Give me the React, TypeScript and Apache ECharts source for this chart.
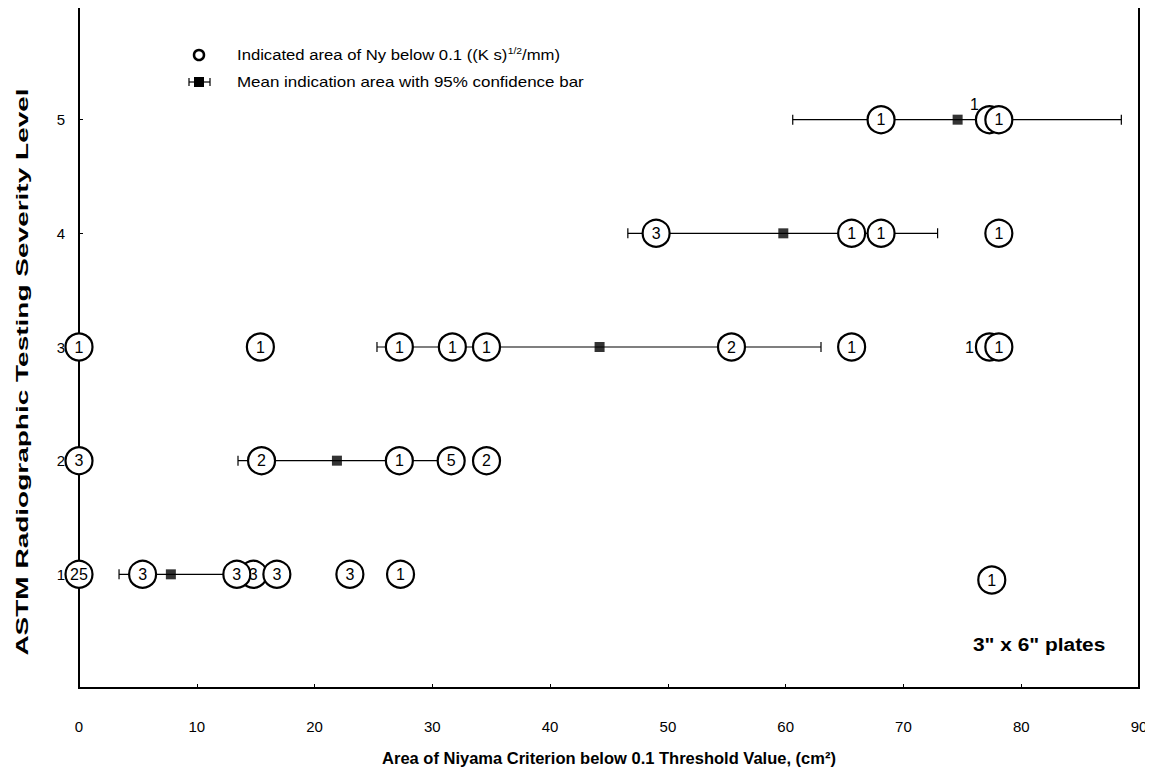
import React, { useEffect, useRef } from "react";
import * as echarts from "echarts";

// Circles: x (area), y (severity level), count shown in circle
const circleX = [0, 5.4, 14.8, 13.4, 16.8, 23.0, 27.3, 77.5,
  0, 15.5, 27.2, 31.6, 34.6,
  0, 15.4, 27.2, 31.7, 34.6, 55.4, 65.6, 77.3, 78.1,
  49.0, 65.6, 68.1, 78.1,
  68.1, 77.3, 78.1];
const circleY = [1, 1, 1, 1, 1, 1, 1, 0.95,
  2, 2, 2, 2, 2,
  3, 3, 3, 3, 3, 3, 3, 3, 3,
  4, 4, 4, 4,
  5, 5, 5];
const circleN = ["25", "3", "3", "3", "3", "3", "1", "1",
  "3", "2", "1", "5", "2",
  "1", "1", "1", "1", "1", "2", "1", "1", "1",
  "3", "1", "1", "1",
  "1", "1", "1"];
// circles partly hidden behind a neighbour (drawn first); some carry their count outside
const circleBehind = [false, false, true, false, false, false, false, false,
  false, false, false, false, false,
  false, false, false, false, false, false, false, true, false,
  false, false, false, false,
  false, true, false];
const outsideLabel = ["", "", "", "", "", "", "", "",
  "", "", "", "", "",
  "", "", "", "", "", "", "", "left", "",
  "", "", "", "",
  "", "topleft", ""];

// Means with 95% confidence bars
const meanLevel = [1, 2, 3, 4, 5];
const meanValue = [7.8, 21.9, 44.2, 59.8, 74.6];
const ciLow = [3.4, 13.5, 25.3, 46.6, 60.6];
const ciHigh = [12.7, 30.8, 63.0, 72.9, 88.5];

const xTicks = [0, 10, 20, 30, 40, 50, 60, 70, 80, 90];
const yTicks = [1, 2, 3, 4, 5];

const FONT = "Liberation Sans, Arial, sans-serif";

export default function App() {
  const ref = useRef<HTMLDivElement>(null);
  useEffect(() => {
    if (!ref.current) return;
    const chart = echarts.init(ref.current, null, { renderer: "svg" });

    const makeItem = (i: number) => {
      const item: any = { value: [circleX[i], circleY[i], circleN[i]] };
      if (outsideLabel[i] === "left") {
        item.label = { position: "left", distance: 1 };
      } else if (outsideLabel[i] === "topleft") {
        item.label = { position: "left", distance: 0, offset: [4, -15] };
      }
      return item;
    };
    const backData: any[] = [];
    const frontData: any[] = [];
    circleX.forEach((_, i) => (circleBehind[i] ? backData : frontData).push(makeItem(i)));

    const barData = meanLevel.map((y, i) => [ciLow[i], ciHigh[i], y]);
    const meanData = meanLevel.map((y, i) => [meanValue[i], y]);

    const circleSeries = (data: any[], z: number) => ({
      type: "scatter",
      z,
      clip: false,
      symbol: "circle",
      symbolSize: 27,
      itemStyle: { color: "#fff", borderColor: "#000", borderWidth: 2.2, opacity: 1 },
      label: {
        show: true, position: "inside", color: "#000", fontSize: 16, fontFamily: FONT,
        formatter: (p: any) => p.value[2],
      },
      emphasis: { disabled: true },
      data,
    });

    const yBase = {
      type: "value", min: 0, max: 6, interval: 1, position: "left", offset: 0,
      axisLine: { show: false },
      splitLine: { show: false },
    };

    chart.setOption({
      animation: false,
      backgroundColor: "#ffffff",
      textStyle: { fontFamily: FONT },
      grid: {
        left: 79, right: 14, top: 6, bottom: 92,
        show: true, borderColor: "#000", borderWidth: 2,
      },
      xAxis: {
        type: "value", min: 0, max: 90, interval: 10,
        name: "Area of Niyama Criterion below 0.1 Threshold Value, (cm²)",
        nameLocation: "middle", nameGap: 61,
        nameTextStyle: { fontFamily: FONT, fontSize: 16.5, fontWeight: "bold", color: "#000" },
        axisLine: { show: true, lineStyle: { color: "#000", width: 2 } },
        axisTick: { show: true, inside: true, length: 4, lineStyle: { color: "#000" } },
        axisLabel: {
          margin: 31, fontSize: 15, color: "#000", fontFamily: FONT,
          formatter: (v: number) => (xTicks.includes(v) ? String(v) : ""),
        },
        splitLine: { show: false },
      },
      yAxis: [
        {
          ...yBase,
          axisTick: { show: true, inside: true, length: 4, lineStyle: { color: "#000" } },
          axisLabel: { show: false },
        },
        {
          ...yBase,
          z: 10,
          axisTick: { show: false },
          axisLabel: {
            margin: 14, fontSize: 15, color: "#000", fontFamily: FONT,
            formatter: (v: number) => (yTicks.includes(v) ? String(v) : ""),
          },
        },
      ],
      series: [
        {
          type: "custom",
          z: 3,
          clip: false,
          data: barData,
          encode: { x: [0, 1], y: 2 },
          renderItem: (params: any, api: any) => {
            const p1 = api.coord([api.value(0), api.value(2)]);
            const p2 = api.coord([api.value(1), api.value(2)]);
            const style = { stroke: "#000", lineWidth: 1.2 };
            return {
              type: "group",
              children: [
                { type: "line", shape: { x1: p1[0], y1: p1[1], x2: p2[0], y2: p2[1] }, style },
                { type: "line", shape: { x1: p1[0], y1: p1[1] - 5, x2: p1[0], y2: p1[1] + 5 }, style },
                { type: "line", shape: { x1: p2[0], y1: p2[1] - 5, x2: p2[0], y2: p2[1] + 5 }, style },
              ],
            };
          },
        },
        {
          type: "scatter",
          z: 4,
          clip: false,
          symbol: "rect",
          symbolSize: 10,
          itemStyle: { color: "#000" },
          data: meanData,
        },
        circleSeries(backData, 5),
        circleSeries(frontData, 6),
      ],
      graphic: [
        {
          type: "text", x: 22, y: 372, rotation: Math.PI / 2, scaleX: 1.75, z: 20,
          style: {
            text: "ASTM Radiographic Testing Severity Level",
            fontFamily: FONT, fontSize: 16, fontWeight: "bold", fill: "#000",
            align: "center", verticalAlign: "middle",
          },
        },
        { type: "circle", shape: { cx: 199, cy: 55, r: 5 }, style: { fill: "#fff", stroke: "#000", lineWidth: 2.5 } },
        {
          type: "text", x: 237, y: 55, scaleX: 1.15,
          style: {
            text: "Indicated area of Ny below 0.1 ((K s){sup|1/2}/mm)",
            fontFamily: FONT, fontSize: 14.5, fill: "#000", verticalAlign: "middle",
            rich: { sup: { fontSize: 9, fontFamily: FONT, fill: "#000", padding: [0, 0, 9, 0] } },
          },
        },
        { type: "line", shape: { x1: 189, y1: 82, x2: 210, y2: 82 }, style: { stroke: "#000", lineWidth: 1.2 } },
        { type: "line", shape: { x1: 189, y1: 78, x2: 189, y2: 86 }, style: { stroke: "#000", lineWidth: 1.2 } },
        { type: "line", shape: { x1: 210, y1: 78, x2: 210, y2: 86 }, style: { stroke: "#000", lineWidth: 1.2 } },
        { type: "rect", shape: { x: 194, y: 77, width: 10, height: 10 }, style: { fill: "#000" } },
        {
          type: "text", x: 237, y: 82, scaleX: 1.17,
          style: { text: "Mean indication area with 95% confidence bar", fontFamily: FONT, fontSize: 14.5, fill: "#000", verticalAlign: "middle" },
        },
        {
          type: "text", x: 973, y: 645, scaleX: 1.16,
          style: { text: "3\" x 6\" plates", fontFamily: FONT, fontSize: 18, fontWeight: "bold", fill: "#000", verticalAlign: "middle" },
        },
      ],
    });
    return () => chart.dispose();
  }, []);
  return <div ref={ref} style={{ width: 1153, height: 780, margin: -8 }} />;
}
